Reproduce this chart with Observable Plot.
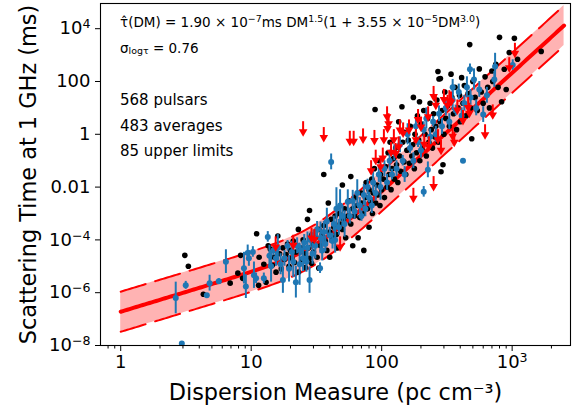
<!DOCTYPE html>
<html><head><meta charset="utf-8">
<script src="https://cdn.jsdelivr.net/npm/d3@7"></script>
<script src="https://cdn.jsdelivr.net/npm/@observablehq/plot@0.6"></script>
<style>body{margin:0;background:#fff}svg{display:block}</style>
</head><body><div id="chart"></div>
<script>
// ---- data ----
const fitA = 1.90e-7, fitB = 3.55e-5, fitP = 1.5, fitQ = 3.0, sigmaLog = 0.76;
const fitRange = [1, 2500];

const xMajor = [1, 10, 100, 1000];
const xMajorLabels = ["1", "10", "100", "10^3"];
const xMinor = [0.8,0.9,2,3,4,5,6,7,8,9,20,30,40,50,60,70,80,90,200,300,400,500,600,700,800,900,2000];
const yMajor = [1e-8, 1e-6, 1e-4, 1e-2, 1, 100, 1e4];
const yMajorLabels = ["10^−8", "10^−6", "10^−4", "0.01", "1", "100", "10^4"];
const infoLines = ["568 pulsars", "483 averages", "85 upper limits"];

// averages without error bars (black): [DM, tau ms]
const averages = [
 [3.1,2.6e-5],[3.3,1e-5],[4.3,8.7e-7],[6.9,2.3e-6],[7.9,5.5e-6],[8.6,3.5e-6],[8.3,2.6e-5],[11,1.7e-4],[11.5,2.2e-5],[11.4,1.9e-6],
 [12.5,1.2e-5],[13,2.5e-6],[13.5,6e-5],[14,4.5e-5],[14.5,1.1e-5],[15,2.2e-5],[15.5,6e-6],[16,1.4e-4],[16.5,3e-5],[17,8e-6],
 [17.5,5e-5],[18,1.8e-5],[18.5,2.8e-5],[19,7e-5],[19.5,1e-5],[20,4e-5],[20.5,2e-5],[21,9e-5],[21.5,1.4e-5],[22,3.5e-5],
 [23,6e-6],[23,2.5e-4],[24,5e-5],[24.5,1.8e-5],[25,1e-4],[26,3e-5],[26,9e-6],[27,6e-4],[27.5,5e-5],[28,1.3e-3],
 [28,2e-5],[29,1.5e-4],[29,1.3e-5],[30,7e-5],[30,3.5e-5],[31,1.2e-4],[32,2.2e-5],[33,8.5e-6],[33,2.5e-4],[34,6e-5],
 [35,1.6e-4],[36,0.03],[36,3.5e-4],[37,9e-5],[38,4e-5],[39,2.5e-3],[40,2.2e-5],[40,2e-4],[41,6e-4],[42,1.2e-4],
 [43,3e-4],[44,8e-4],[45,1.6e-4],[46,5e-5],[47,1e-3],[48,4e-4],[50,0.012],[50,2.5e-4],[51,6e-4],[52,1.5e-3],
 [53,1.2e-4],[55,8e-4],[56,3e-3],[58,0.025],[58,4e-4],[60,1.5e-3],[60,6e-5],[62,8e-4],[63,4e-3],[65,2e-3],
 [66,1.2e-4],[68,7e-4],[70,6e-3],[70,2.5e-3],[72,1e-3],[73,4e-5],[75,4e-3],[76,0.015],[78,1.5e-3],[80,8e-3],
 [80,3e-4],[82,3e-3],[84,0.02],[85,1e-3],[86,6e-3],[88,0.05],[89,8.7],[90,2.5e-3],[92,0.012],[94,5e-3],
 [95,0.1],[97,2e-3],[98,0.03],[100,8e-3],[103,0.02],[105,4e-3],[107,0.06],[110,0.01],[112,0.2],[114,0.03],
 [116,0.5],[118,0.008],[120,0.05],[123,0.12],[125,0.02],[128,0.3],[130,0.07],[133,0.015],[135,3],[137,0.15],
 [140,0.04],[143,11],[145,0.5],[148,0.09],[150,1.2],[153,0.03],[156,0.25],[160,0.6],[163,0.08],[166,2],
 [170,0.15],[173,0.4],[175,25],[178,0.05],[180,1],[185,0.2],[188,5],[192,0.6],[195,17],[196,0.1],[200,2.5],
 [205,0.3],[210,8],[215,1],[220,0.15],[225,4],[230,0.5],[235,15],[240,1.5],[245,0.3],[250,6],
 [255,0.8],[260,2],[265,20],[270,240],[272,0.5],[275,125],[282,130],[280,3],[285,0.038],[290,8],[295,0.07],
 [300,1],[305,40],[310,4],[320,12],[330,2],[340,190],[345,25],[355,6],[365,60],[375,1.5],
 [385,10],[395,30],[400,3],[410,140],[420,15],[430,70],[445,5],[460,35],[473,2500],[480,10],
 [490,0.68],[500,100],[520,25],[540,8],[560,300],[580,40],[600,15],[620,150],[650,60],[670,10],
 [700,250],[710,100],[750,450],[780,60],[800,4700],[830,17],[870,290],[900,50],[950,1260],[1040,4300],
 [1100,700],[1670,1380]
];

// averages with error bars (blue): [DM, tau ms, half-width in dex]
const measured = [
 [2.64,6.3e-7,0.6],[2.94,1.2e-8,0],[3.15,1.9e-6,0.15],[4.57,8e-7,0.05],[4.8,2.3e-6,0.3],[5.65,2.7e-6,0.1],
 [6.4,1.5e-5,0.45],[8.8,8.5e-6,0.6],[9.1,1.7e-6,0.45],[9.4,3.2e-5,0.3],[9.6,2e-5,0.3],[10.3,3.5e-5,0.2],
 [10.5,4.6e-6,0.5],[10.9,3.5e-6,0.2],[12.5,3.5e-6,0.2],[13.4,1.3e-4,0.2],[13.8,2.5e-5,0.4],[14.2,1e-5,0.6],
 [14.8,4e-5,0.2],[15.5,2e-5,0.3],[16,5e-5,0.5],[16.8,1.2e-5,0.4],[17.5,3e-6,0.5],[18,2e-5,0.3],
 [19,6e-5,0.2],[19.5,8e-6,0.5],[20.5,3.5e-5,0.4],[21,1.5e-5,0.6],[22,2.5e-6,0.6],[22.5,6e-5,0.3],
 [23.5,1.2e-5,0.8],[24,4e-5,0.2],[25,2e-5,0.5],[25.5,8e-5,0.3],[26.5,1.5e-5,0.4],[27,5e-5,0.6],
 [28,3e-6,0.5],[28.5,1e-4,0.3],[29.5,3e-5,0.4],[30,1.5e-4,0.2],[31,6e-5,0.5],[32,2.5e-4,0.3],
 [33.7,8.5e-6,0.2],[34,1.2e-4,0.6],[35,4e-5,0.4],[36,2e-4,0.4],[37,7e-5,0.3],[38,5e-4,0.5],
 [40,1.5e-4,0.3],[41,0.09,0.3],[42,9e-5,0.3],[43,4e-4,0.3],[44,1e-4,0.5],[45,1.5e-3,0.8],[47,3e-4,0.3],
 [48,2e-3,0.6],[50,8e-4,0.4],[52,4e-4,0.5],[55,2.8e-3,0.45],[57,8e-4,0.3],[60,3e-3,0.4],[62,1.2e-3,0.3],
 [65,6e-3,0.5],[68,2e-3,0.3],[70,8e-4,0.2],[73,5e-3,0.4],[75,1.5e-3,0.3],[78,0.01,0.3],[80,4e-3,0.2],
 [84,2e-3,0.3],[86,0.015,0.4],[90,6e-3,0.3],[95,0.03,0.3],[98,0.01,0.5],[105,0.05,0.3],[110,0.015,0.3],
 [115,0.1,0.4],[120,0.03,0.2],[125,0.2,0.3],[130,0.05,0.3],[138,0.4,0.3],[145,0.1,0.2],[150,0.03,0.3],
 [158,1,0.4],[165,0.3,0.2],[175,0.1,0.3],[183,2,0.3],[190,0.5,0.2],[200,0.25,0.3],[210,0.0066,0.2],
 [210,1.5,0.3],[220,4,0.4],[226,0.045,0.3],[235,0.8,0.3],[248,3,0.2],[260,1,0.3],[275,6,0.3],[290,2,0.3],
 [310,10,0.3],[330,3,0.3],[350,60,0.3],[350,20,0.4],[370,8,0.2],[390,40,0.3],[410,5,0.3],[420,0.1,0],
 [430,15,0.3],[450,60,0.4],[475,290,0.2],[480,25,0.3],[510,120,0.4],[530,10,0.3],[560,50,0.3],[600,5.6,0.3],
 [640,30,0.3],[730,120,0.3],[740,370,0.5],[1010,420,0.2]
];

// upper limits (red arrows): [DM, tau ms]
const limits = [
 [15.4,1.3e-4],[21,1.5e-4],[29,2.8e-4],[30.5,2.5e-4],[48,1.3e-4],
 [25,3],[36,1.8],[57,1.3],[61,1.3],[72,1.6],[88,1.4],[83,0.1],[90,0.25],[98,0.14],[102,0.3],
 [104,1.5],[110,11],[111,4],[113,6],[118,0.5],[124,1.5],[128,0.45],[135,0.8],[138,3.5],[146,2.7],
 [162,3.5],[175,0.009],[183,1.5],[190,8.7],[200,4.5],[212,1.0],[227,11],[230,0.8],[250,65],[250,0.025],
 [260,30],[270,1.5],[285,0.6],[300,50],[320,30],[330,45],[340,40],[350,2],[360,1.2],[380,20],[420,8],
 [460,25],[470,15],[620,2.3],[710,13],[950,800],[1050,2800]
];

// ---- fit curve (from the formula shown in the chart) ----
const fit = d3.range(0, 201).map(i => {
  const dm = fitRange[0] * Math.pow(fitRange[1] / fitRange[0], i / 200);
  const t = fitA * Math.pow(dm, fitP) * (1 + fitB * Math.pow(dm, fitQ));
  return {dm, mid: t, lo: t / Math.pow(10, sigmaLog), hi: t * Math.pow(10, sigmaLog)};
});

const blue = "#1f77b4";
const font = "DejaVu Sans";

const chart = Plot.plot({
  width: 579, height: 413,
  marginLeft: 100, marginRight: 9, marginTop: 3, marginBottom: 68,
  style: {fontFamily: font, background: "white", color: "black"},
  x: {type: "log", domain: [0.7, 2800]},
  y: {type: "log", domain: [1e-8, 9e4]},
  marks: [
    Plot.areaY(fit, {x: "dm", y1: "lo", y2: "hi", fill: "#ffb3b3", clip: true}),
    Plot.line(fit, {x: "dm", y: "hi", stroke: "#ff0000", strokeWidth: 2, strokeDasharray: "26,10", clip: true}),
    Plot.line(fit, {x: "dm", y: "lo", stroke: "#ff0000", strokeWidth: 2, strokeDasharray: "26,10", clip: true}),
    Plot.line(fit, {x: "dm", y: "mid", stroke: "#ff0000", strokeWidth: 4, clip: true}),
    Plot.dot(averages, {x: d => d[0], y: d => d[1], r: 2.8, fill: "black", stroke: "none", clip: true}),
    Plot.ruleX(measured, {x: d => d[0], y1: d => d[1] / Math.pow(10, d[2]), y2: d => d[1] * Math.pow(10, d[2]), stroke: blue, strokeWidth: 2, clip: true}),
    Plot.dot(measured, {x: d => d[0], y: d => d[1], r: 3, fill: blue, stroke: "none", clip: true}),
    Plot.ruleX(limits, {x: d => d[0], y1: d => d[1], y2: d => d[1] / 2.4, stroke: "#ff0000", strokeWidth: 2, clip: true}),
    Plot.dot(limits, {x: d => d[0], y: d => d[1], dy: 10, symbol: "triangle", rotate: 180, r: 3.2, fill: "#ff0000", stroke: "none", clip: true}),
    Plot.frame({stroke: "black", strokeWidth: 1.1}),
    Plot.axisX({ticks: xMinor, tickSize: 3.5, tickFormat: () => "", label: null}),
    Plot.axisX({ticks: xMajor, tickSize: 6, tickPadding: 4, fontSize: 18, tickFormat: d => xMajorLabels[xMajor.indexOf(d)], label: null}),
    Plot.axisY({ticks: yMajor, tickSize: 5, tickPadding: 5, fontSize: 18, tickFormat: d => yMajorLabels[yMajor.indexOf(d)], label: null}),
    Plot.text(["Dispersion Measure (pc cm⁻³)"], {frameAnchor: "bottom", dy: 47, fontSize: 22.4, lineAnchor: "middle", textAnchor: "middle"}),
    Plot.text(["Scattering Time at 1 GHz (ms)"], {frameAnchor: "left", dx: -72, rotate: -90, fontSize: 22.4, lineAnchor: "middle", textAnchor: "middle"})
  ]
});
document.getElementById("chart").appendChild(chart);

const svg = d3.select(chart);
// turn "10^x" tick labels into real superscripts
svg.selectAll("text").each(function() {
  const s = this.textContent;
  if (!/^10\^/.test(s)) return;
  const [base, exp] = s.split("^");
  const t = d3.select(this);
  t.text(null);
  t.append("tspan").text(base);
  t.append("tspan").text(exp).attr("font-size", "0.7em").attr("baseline-shift", "45%");
});

// annotation texts (formula with super/subscripts, counts)
function addRich(y, parts, size) {
  const t = svg.append("text").attr("x", 120).attr("y", y).attr("font-family", font).attr("font-size", size)
    .attr("fill", "black").attr("text-anchor", "start").attr("dominant-baseline", "middle");
  for (const [s, kind] of parts) {
    const ts = t.append("tspan").text(s);
    if (kind === "sup") ts.attr("font-size", size * 0.7).attr("baseline-shift", "40%");
    if (kind === "sub") ts.attr("font-size", size * 0.7).attr("baseline-shift", "-25%");
  }
}
addRich(23, [["τ̂(DM) = 1.90 × 10"], ["−7", "sup"], ["ms DM"], ["1.5", "sup"], ["(1 + 3.55 × 10"], ["−5", "sup"], ["DM"], ["3.0", "sup"], [")"]], 13.5);
addRich(49, [["σ"], ["logτ", "sub"], [" = 0.76"]], 13.5);
const infoY = [100, 126, 151];
infoLines.forEach((s, i) => addRich(infoY[i], [[s]], 15));
</script></body></html>
